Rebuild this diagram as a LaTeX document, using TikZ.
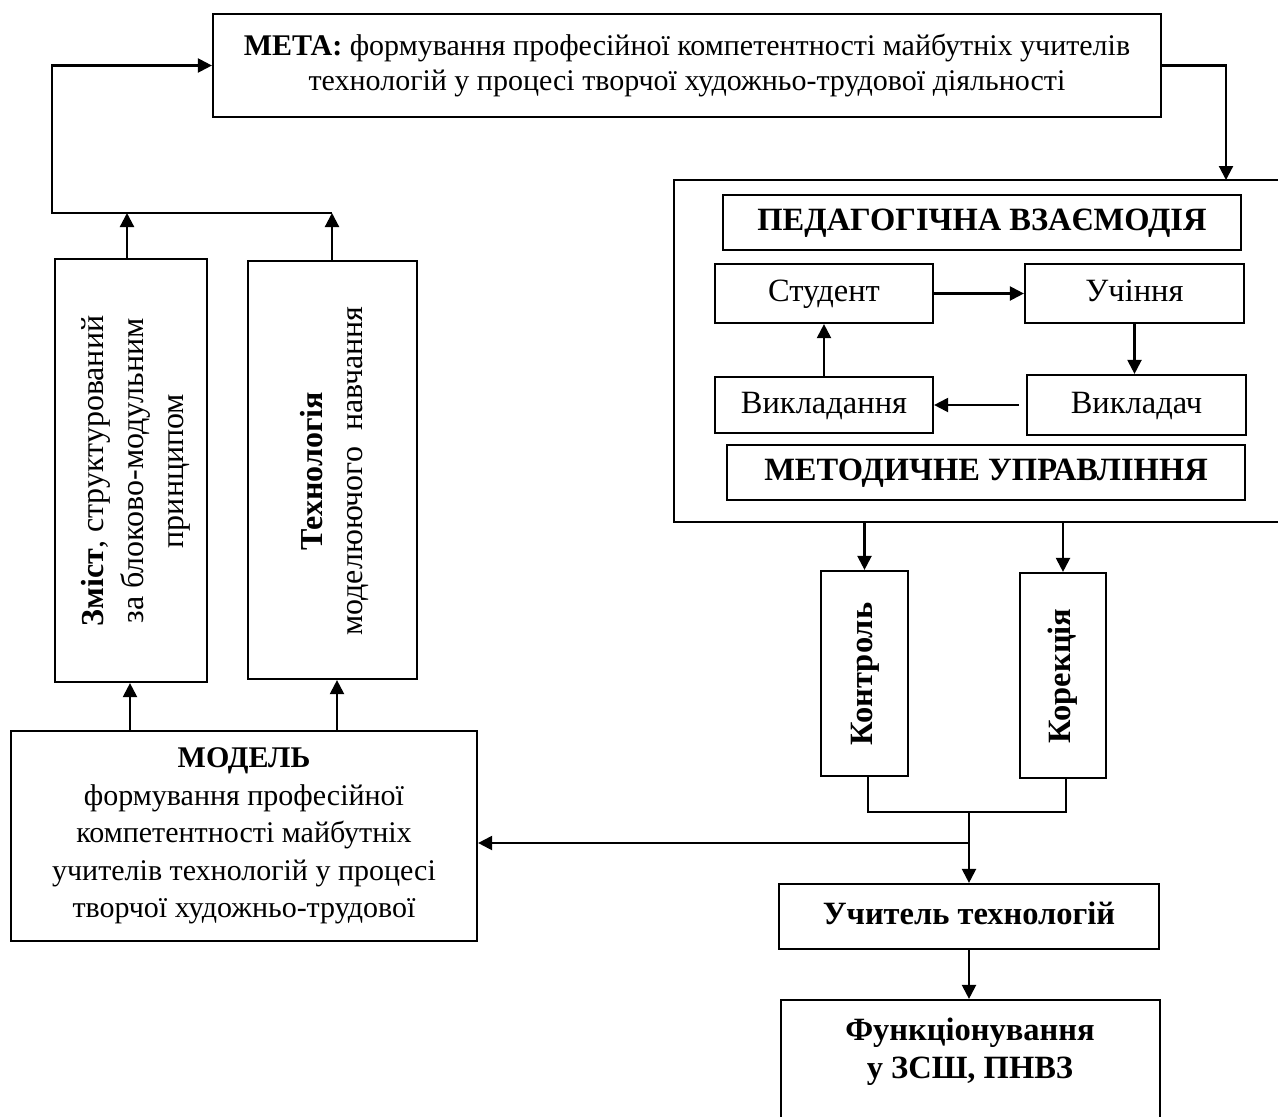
\documentclass[tikz,border=0pt]{standalone}
\usepackage{fontspec}
\setmainfont{Liberation Serif}
\usetikzlibrary{arrows.meta,calc}
\newcommand\myfs{\fontsize{32.5}{38}\selectfont}
\newcommand\metafs{\fontsize{30}{35}\selectfont}
\newcommand\modfs{\fontsize{30}{37.5}\selectfont}
\newcommand\rotfs{\fontsize{32}{40}\selectfont}
\begin{document}
\begin{tikzpicture}[x=1pt,y=-1pt,
  every node/.style={font=\myfs},
  box/.style={draw, line width=2.2pt, inner sep=0pt, align=center},
  one/.style={text height=22pt, text depth=6pt},
  txt/.style={inner sep=0pt, align=center},
  ln/.style={line width=2.2pt},
  arr/.style={line width=2.2pt, -{Triangle[length=14pt,width=14pt]}}]
\useasboundingbox (0,0) rectangle (1278,1117);

% main boxes
\node[box, minimum width=948, minimum height=103, font=\metafs] (meta) at (687,65.5)
  {\textbf{МЕТА:} формування професійної компетентності майбутніх учителів\\технологій у процесі творчої художньо-трудової діяльності};

\node[box, minimum width=152, minimum height=423] (zmist) at (131,470.5) {};
\node[txt, rotate=90, font=\rotfs] (zmisttext) at (136,471)
  {\textbf{Зміст}, структурований\\за блоково-модульним\\принципом};

\node[box, minimum width=169, minimum height=418] (tech) at (332.5,470) {};
\node[txt, rotate=90, font=\rotfs] (techtext) at (334,471)
  {\textbf{Технологія}\\моделюючого~~навчання};

\node[box, minimum width=466, minimum height=210, font=\modfs] (model) at (244,836)
  {\textbf{МОДЕЛЬ}\\формування професійної\\компетентності майбутніх\\учителів технологій у процесі\\творчої художньо-трудової};

% container (right edge runs off the page)
\draw[ln] (1295,180) -- (674,180) -- (674,522) -- (1295,522);
\coordinate (ctop) at (1226,180);
\coordinate (cbot) at (674,522);

\node[box, one, minimum width=518, minimum height=55] (ped) at (982,222.5) {\textbf{ПЕДАГОГІЧНА ВЗАЄМОДІЯ}};
\node[box, one, minimum width=218, minimum height=59] (stud) at (824,293.5) {Студент};
\node[box, one, minimum width=219, minimum height=59] (uch) at (1134.5,293.5) {Учіння};
\node[box, one, minimum width=218, minimum height=56] (vykl) at (824,405) {Викладання};
\node[box, one, minimum width=219, minimum height=60] (vyklad) at (1136.5,405) {Викладач};
\node[box, one, minimum width=518, minimum height=55] (metod) at (986,472.5) {\textbf{МЕТОДИЧНЕ УПРАВЛІННЯ}};

\node[box, minimum width=87, minimum height=205] (kontr) at (864.5,673.5) {};
\node[txt, one, rotate=90] (kontrtext) at (864,674) {\textbf{Контроль}};
\node[box, minimum width=86, minimum height=205] (korek) at (1063,675.5) {};
\node[txt, one, rotate=90] (korektext) at (1062,676) {\textbf{Корекція}};

\node[box, one, minimum width=380, minimum height=65] (uchyt) at (969,916.5) {\textbf{Учитель технологій}};
\node[box, minimum width=379, minimum height=150] (func) at (970.5,1075) {};
\node[txt] (functext) at (970,1052) {\textbf{Функціонування}\\\textbf{у ЗСШ, ПНВЗ}};

% left feedback to meta
\coordinate (topL) at (127,213);
\coordinate (topR) at (332,213);
\coordinate (jL) at (52,213);
\draw[arr] (zmist.north -| topL) -- (topL);
\draw[arr] (tech.north -| topR) -- (topR);
\draw[arr] (topR) -- (jL) |- (meta.west);

% model up to the two vertical boxes
\coordinate (mA) at (130,731);
\coordinate (mB) at (337,731);
\draw[arr] (model.north -| mA) -- (zmist.south -| mA);
\draw[arr] (model.north -| mB) -- (tech.south -| mB);

% meta to container
\draw[arr] (meta.east) -| (ctop);

% inner cycle
\draw[arr] (stud.east) -- (uch.west);
\draw[arr] (uch.south) -- (vyklad.north -| uch.south);
\draw[arr, shorten <=7pt] (vyklad.west) -- (vykl.east);
\draw[arr] (vykl.north) -- (stud.south);

% container to control / correction
\draw[arr] (kontr.north |- cbot) -- (kontr.north);
\draw[arr] (korek.north |- cbot) -- (korek.north);

% bracket and outputs
\coordinate (brL) at (868,812);
\coordinate (brR) at (1066,812);
\coordinate (brM) at (969,812);
\coordinate (mj) at (969,843);
\draw[ln] (kontr.south -| brL) -- (brL) -- (brR) -- (korek.south -| brR);
\draw[arr] (brM) -- (uchyt.north -| brM);
\draw[arr] (mj) -- (model.east |- mj);
\draw[arr] (uchyt.south) -- (func.north -| uchyt.south);
\end{tikzpicture}
\end{document}
